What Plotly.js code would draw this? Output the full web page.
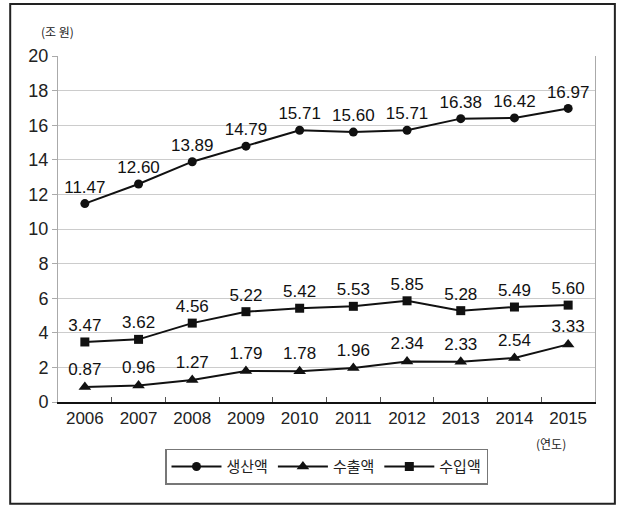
<!DOCTYPE html>
<html><head><meta charset="utf-8">
<script src="https://cdn.plot.ly/plotly-3.0.1.min.js"></script>
<style>html,body{margin:0;padding:0;background:#fff}#c{width:625px;height:506px}</style>
</head><body><div id="c"></div>
<script>
const years = ['2006','2007','2008','2009','2010','2011','2012','2013','2014','2015'];
const production = [11.47, 12.60, 13.89, 14.79, 15.71, 15.60, 15.71, 16.38, 16.42, 16.97];
const exportsV = [0.87, 0.96, 1.27, 1.79, 1.78, 1.96, 2.34, 2.33, 2.54, 3.33];
const importsV = [3.47, 3.62, 4.56, 5.22, 5.42, 5.53, 5.85, 5.28, 5.49, 5.60];
const names = ['생산액', '수출액', '수입액'];

const FONT = '"Liberation Sans Narrow", "Liberation Sans", Arial, sans-serif';
const KFONT = '"Noto Sans CJK KR", sans-serif';
function tr(y, name, sym, size) {
  return {
    x: years, y: y, name: name, type: 'scatter', mode: 'lines+markers+text',
    text: y.map(v => v.toFixed(2)), textposition: 'top center',
    textfont: {family: FONT, size: 17, color: '#111'},
    line: {color: '#111', width: 2},
    marker: {symbol: sym, size: size, color: '#111'},
    cliponaxis: false
  };
}
const data = [
  tr(production, names[0], 'circle', 9),
  tr(exportsV, names[1], 'triangle-up', 11),
  tr(importsV, names[2], 'square', 9)
];
const layout = {
  width: 625, height: 506,
  margin: {l: 58, r: 30, t: 56, b: 104},
  paper_bgcolor: '#fff', plot_bgcolor: '#fff',
  font: {family: FONT, size: 17, color: '#222'},
  showlegend: true,
  legend: {orientation: 'h', x: 0.5, xanchor: 'center', y: -0.135, yanchor: 'top',
    bordercolor: '#777', borderwidth: 1.5, font: {family: KFONT, size: 15, color: '#222'},
    itemwidth: 50, tracegroupgap: 0},
  xaxis: {type: 'category', range: [-0.5, 9.5], showline: true, linecolor: '#111', linewidth: 2,
    ticks: 'inside', tickson: 'boundaries', ticklen: 5, tickcolor: '#555', showgrid: false,
    tickfont: {size: 17, color: '#222'}, fixedrange: true},
  yaxis: {range: [0, 20], dtick: 2, showline: true, mirror: true, linecolor: '#aaa', linewidth: 1,
    ticks: 'outside', ticklen: 5, tickcolor: '#aaa', gridcolor: '#ccc', gridwidth: 1,
    zeroline: false, tickfont: {size: 18, color: '#222'}, fixedrange: true},
  shapes: [{type: 'rect', xref: 'paper', yref: 'paper', x0: -0.089, x1: 1.037, y0: -0.294, y1: 1.150,
    line: {color: '#222', width: 2}}],
  annotations: [
    {text: '(조 원)', xref: 'paper', yref: 'paper', x: -0.035, y: 1.10, showarrow: false,
     font: {family: KFONT, size: 12, color: '#222'}},
    {text: '(연도)', xref: 'paper', yref: 'paper', x: 0.95, y: -0.15, showarrow: false,
     font: {family: KFONT, size: 12, color: '#222'}}
  ]
};
Plotly.newPlot('c', data, layout, {displayModeBar: false, staticPlot: true});
</script></body></html>
